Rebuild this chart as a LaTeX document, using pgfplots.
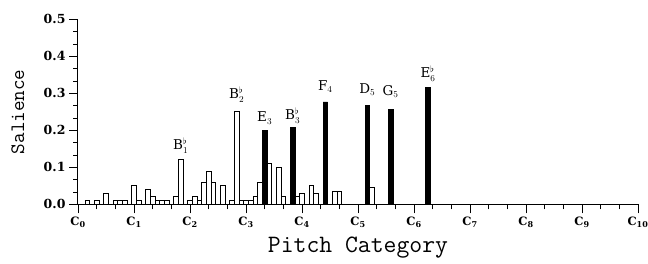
\documentclass[border=0pt]{standalone}
\usepackage{pgfplots}
\pgfplotsset{compat=1.18}
\usepackage{fontspec}
\setmainfont{DejaVu Serif}
\newcommand{\Cl}[1]{\textbf{\fontsize{11.5}{12}\selectfont C\textsubscript{#1}}}
\newcommand{\Yl}[1]{\textbf{\fontsize{12.5}{13}\selectfont #1}}
\begin{document}
\begin{tikzpicture}
\begin{axis}[
  at={(0,0)}, anchor=south west,
  scale only axis, width=560pt, height=185pt,
  xmin=0, xmax=120, ymin=0, ymax=0.5,
  axis lines*=left,
  axis line style={line width=1pt},
  xtick={0,12,24,36,48,60,72,84,96,108,120},
  xticklabels={\Cl{0},\Cl{1},\Cl{2},\Cl{3},\Cl{4},\Cl{5},\Cl{6},\Cl{7},\Cl{8},\Cl{9},\Cl{10}},
  minor tick num=2,
  ytick={0,0.1,0.2,0.3,0.4,0.5},
  yticklabels={\Yl{0.0},\Yl{0.1},\Yl{0.2},\Yl{0.3},\Yl{0.4},\Yl{0.5}},
  tick align=outside,
  major tick length=9pt, minor tick length=5pt,
  every tick/.style={line width=0.9pt, black},
  ylabel={\ttfamily\fontsize{20.5}{22}\selectfont Salience},
  ylabel style={at={(axis description cs:-0.0964,0.5)}, anchor=base},
  xlabel={\ttfamily\fontsize{25}{27}\selectfont Pitch Category},
  xlabel style={at={(axis description cs:0.5,-0.263)}, anchor=base},
  clip=false,
]
% unlabeled white bars
\addplot[ybar, bar width=1, bar shift=0pt, fill=white, draw=black, line width=0.8pt]
coordinates {
(2,0.01) (4,0.01) (6,0.03) (8,0.01) (9,0.01) (10,0.01)
(12,0.05) (13,0.01) (15,0.04) (16,0.02) (17,0.01) (18,0.01) (19,0.01)
(21,0.02) (24,0.01) (25,0.02) (26,0.01) (27,0.06) (28,0.09) (29,0.06)
(31,0.05) (33,0.01) (35,0.01) (36,0.01) (37,0.01) (38,0.02) (39,0.06)
(41,0.11) (43,0.10) (44,0.02) (47,0.02) (48,0.03) (50,0.05) (51,0.03)
(55,0.035) (56,0.035) (63,0.045)
};
% labeled white bars
\addplot[ybar, bar width=1, bar shift=0pt, fill=white, draw=black, line width=0.8pt,
  point meta=explicit symbolic,
  visualization depends on={\thisrow{gap} \as \gap},
  nodes near coords,
  nodes near coords style={font=\fontsize{13.5}{14}\selectfont, anchor=south, inner sep=0pt, yshift=\gap pt, black}]
table[x=x, y=y, meta=label] {
x y gap label
22 0.12 6 {B$^{\flat}_{1}$}
34 0.25 9 {B$^{\flat}_{2}$}
};
% black bars
\addplot[ybar, bar width=1, bar shift=0pt, fill=black, draw=black, line width=0.5pt,
  point meta=explicit symbolic,
  visualization depends on={\thisrow{gap} \as \gap},
  nodes near coords,
  nodes near coords style={font=\fontsize{13.5}{14}\selectfont, anchor=south, inner sep=0pt, yshift=\gap pt, black}]
table[x=x, y=y, meta=label] {
x y gap label
40 0.200 6 {E$_{3}$}
46 0.207 4 {B$^{\flat}_{3}$}
53 0.277 9 {F$_{4}$}
62 0.267 10 {D$_{5}$}
67 0.257 11 {G$_{5}$}
75 0.316 6 {E$^{\flat}_{6}$}
};
\end{axis}
\pgfresetboundingbox
\path[use as bounding box] (-78pt,-59.7pt) rectangle (570pt,204.3pt);
\end{tikzpicture}
\end{document}
